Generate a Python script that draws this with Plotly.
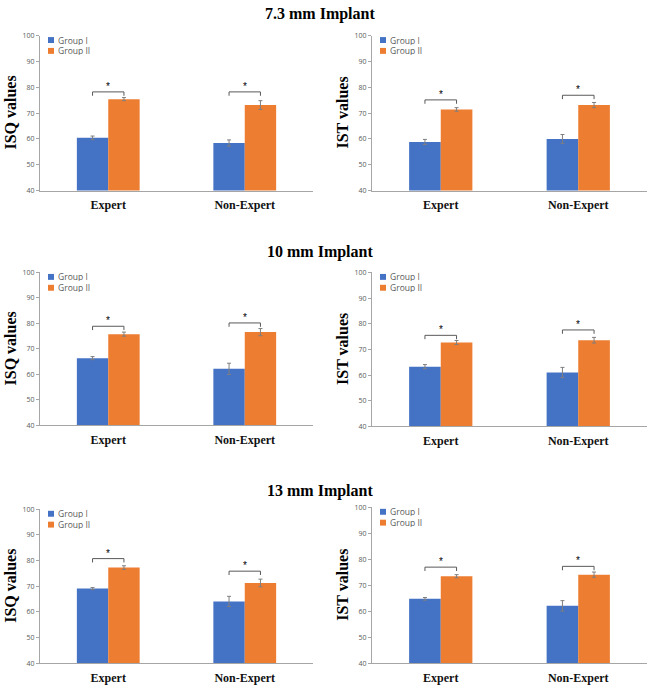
import plotly.graph_objects as go

# ---------------- data ----------------
categories = ["Expert", "Non-Expert"]
series_names = ["Group I", "Group II"]
row_titles = ["7.3 mm Implant", "10 mm Implant", "13 mm Implant"]
y_titles = ["ISQ values", "IST values"]
y_ticks = [40, 50, 60, 70, 80, 90, 100]

# 7.3 mm implant
isq73_g1 = [60.4, 58.4]
isq73_g1_err = [0.7, 1.2]
isq73_g2 = [75.4, 73.1]
isq73_g2_err = [0.6, 1.7]
isq73_bracket = [78.2, 78.2]

ist73_g1 = [58.8, 60.0]
ist73_g1_err = [1.0, 1.7]
ist73_g2 = [71.4, 73.1]
ist73_g2_err = [0.7, 1.0]
ist73_bracket = [75.1, 76.9]

# 10 mm implant
isq10_g1 = [66.4, 62.2]
isq10_g1_err = [0.6, 2.2]
isq10_g2 = [75.8, 76.6]
isq10_g2_err = [0.8, 1.4]
isq10_bracket = [78.9, 80.2]

ist10_g1 = [63.3, 61.0]
ist10_g1_err = [0.8, 2.0]
ist10_g2 = [72.7, 73.6]
ist10_g2_err = [0.8, 1.1]
ist10_bracket = [75.5, 77.6]

# 13 mm implant
isq13_g1 = [69.1, 64.1]
isq13_g1_err = [0.4, 2.0]
isq13_g2 = [77.3, 71.3]
isq13_g2_err = [0.7, 1.5]
isq13_bracket = [80.8, 75.9]

ist13_g1 = [64.8, 62.1]
ist13_g1_err = [0.5, 2.0]
ist13_g2 = [73.5, 74.1]
ist13_g2_err = [0.6, 1.0]
ist13_bracket = [77.0, 77.3]

significance = ["*", "*"]

# ---------------- layout helpers ----------------
W, H = 652, 689
BLUE, ORANGE = "#4472C4", "#ED7D31"
AXIS_COL = "#a6a6a6"
SERIF = "Liberation Serif"
SANS = "Open Sans"

BARGAP = 0.54
half_w = (1 - BARGAP) / 2 / 2  # offset of each bar centre from category centre


def px_x(p):
    return p / W


def px_y(p):
    return 1 - p / H


panels = [
    # (g1, g1err, g2, g2err, bracket, ytitle, x0px, x1px, y0px(top), y1px(bottom))
    (isq73_g1, isq73_g1_err, isq73_g2, isq73_g2_err, isq73_bracket, y_titles[0], 40, 313, 31, 188),
    (ist73_g1, ist73_g1_err, ist73_g2, ist73_g2_err, ist73_bracket, y_titles[1], 372, 647, 31, 188),
    (isq10_g1, isq10_g1_err, isq10_g2, isq10_g2_err, isq10_bracket, y_titles[0], 40, 313, 271, 426),
    (ist10_g1, ist10_g1_err, ist10_g2, ist10_g2_err, ist10_bracket, y_titles[1], 372, 647, 271, 427),
    (isq13_g1, isq13_g1_err, isq13_g2, isq13_g2_err, isq13_bracket, y_titles[0], 40, 313, 511, 667),
    (ist13_g1, ist13_g1_err, ist13_g2, ist13_g2_err, ist13_bracket, y_titles[1], 372, 647, 509, 667),
]

fig = go.Figure()
shapes = []
annotations = []
layout_axes = {}

for i, (g1, g1e, g2, g2e, br, ytitle, x0, x1, yt, yb) in enumerate(panels):
    n = i + 1
    xa = "x" if n == 1 else f"x{n}"
    ya = "y" if n == 1 else f"y{n}"
    for name, vals, errs, col in [(series_names[0], g1, g1e, BLUE),
                                  (series_names[1], g2, g2e, ORANGE)]:
        fig.add_trace(go.Bar(
            x=categories, y=vals, name=name, marker_color=col,
            marker_line_width=0,
            error_y=dict(type="data", array=errs, color="#7f7f7f",
                         thickness=1, width=2),
            xaxis=xa, yaxis=ya, showlegend=False,
        ))

    layout_axes["xaxis" if n == 1 else f"xaxis{n}"] = dict(
        domain=[px_x(x0), px_x(x1)], anchor=ya, range=[-0.5, 1.5],
        showline=True, linecolor=AXIS_COL, linewidth=1, ticks="",
        showgrid=False, zeroline=False, fixedrange=True,
        tickfont=dict(family=SERIF, size=12, color="#111", weight="bold"),
        ticklabelstandoff=3,
    )
    layout_axes["yaxis" if n == 1 else f"yaxis{n}"] = dict(
        domain=[px_y(yb), px_y(yt)], anchor=xa, range=[40, 100],
        tickvals=y_ticks, showline=True, linecolor=AXIS_COL, linewidth=1,
        ticks="outside", ticklen=3, tickcolor=AXIS_COL,
        showgrid=False, zeroline=False, fixedrange=True,
        tickfont=dict(family=SANS, size=7, color="#595959"),
    )

    # significance brackets
    drop = 1.5
    for c, level in enumerate(br):
        xl, xr = c - half_w, c + half_w
        for (ax0, ay0, ax1, ay1) in [(xl, level - drop, xl, level),
                                     (xl, level, xr, level),
                                     (xr, level, xr, level - drop)]:
            shapes.append(dict(type="line", xref=xa, yref=ya,
                               x0=ax0, y0=ay0, x1=ax1, y1=ay1,
                               line=dict(color="#595959", width=1)))
        annotations.append(dict(xref=xa, yref=ya, x=c, y=level, text=significance[c],
                                showarrow=False, yanchor="bottom", yshift=-2,
                                font=dict(family="Liberation Sans", size=10, color="#000")))

    # legend (custom, compact)
    for k, (name, col) in enumerate(zip(series_names, [BLUE, ORANGE])):
        cy = yt + 4.5 + 11 * k
        shapes.append(dict(type="rect", xref="paper", yref="paper",
                           x0=px_x(x0 + 8), x1=px_x(x0 + 14),
                           y0=px_y(cy + 3), y1=px_y(cy - 3),
                           fillcolor=col, line=dict(width=0)))
        annotations.append(dict(xref="paper", yref="paper", x=px_x(x0 + 17), y=px_y(cy),
                                text=name, showarrow=False, xanchor="left", yanchor="middle",
                                height=9, valign="middle", borderpad=0,
                                font=dict(family=SANS, size=8.5, color="#595959")))

    # y-axis title
    annotations.append(dict(xref="paper", yref="paper", x=px_x(x0 - 29.5),
                            y=px_y((yt + yb) / 2), text=ytitle, textangle=-90,
                            showarrow=False, xanchor="center", yanchor="middle",
                            font=dict(family=SERIF, size=16, color="#000", weight="bold")))

# row titles
for title, ty in zip(row_titles, [9, 250, 492]):
    annotations.append(dict(xref="paper", yref="paper", x=px_x(320), y=px_y(ty),
                            text=title, showarrow=False, xanchor="center", yanchor="middle",
                            font=dict(family=SERIF, size=16, color="#000", weight="bold")))

fig.update_layout(
    width=W, height=H, margin=dict(l=0, r=0, t=0, b=0),
    paper_bgcolor="white", plot_bgcolor="white",
    barmode="group", bargap=BARGAP, bargroupgap=0,
    shapes=shapes, annotations=annotations, showlegend=False,
    **layout_axes,
)

fig.write_html(
    "out.html",
    config={"displayModeBar": False, "staticPlot": True},
    post_script="document.body.style.margin='0';document.body.style.padding='0';"
                "document.documentElement.style.overflow='hidden';",
)
